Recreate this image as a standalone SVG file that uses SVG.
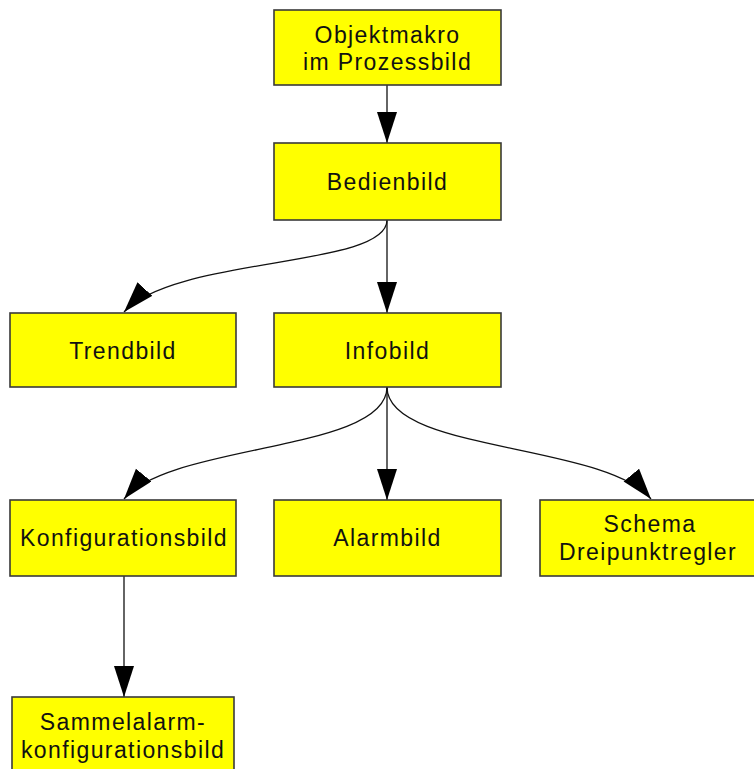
<svg xmlns="http://www.w3.org/2000/svg" width="754" height="769" viewBox="0 0 754 769">
  <style>
    .box { fill: #ffff00; stroke: #3a3a3a; stroke-width: 1.6; }
    .lbl { font-family: "Liberation Sans", Arial, sans-serif; font-size: 23px; fill: #111; text-anchor: middle; letter-spacing: 1.4px; }
    .edge { fill: none; stroke: #111; stroke-width: 1.3; }
  </style>
  <defs>
    <marker id="arrow" markerUnits="userSpaceOnUse" markerWidth="34" markerHeight="22" refX="31" refY="10" orient="auto">
      <path d="M0,0 L31,10 L0,20 z" fill="#000"/>
    </marker>
  </defs>

  <rect width="754" height="769" fill="#fff"/>

  <g id="connectors">
    <path class="edge" d="M387,85 L387,143" marker-end="url(#arrow)"/>
    <path class="edge" d="M387,220 L387,313" marker-end="url(#arrow)"/>
    <path class="edge" d="M387,220 C387,268 175,256 124,312" marker-end="url(#arrow)"/>
    <path class="edge" d="M387,387 L387,500" marker-end="url(#arrow)"/>
    <path class="edge" d="M387,387 C387,452 170,443 124,499" marker-end="url(#arrow)"/>
    <path class="edge" d="M387,387 C387,452 605,443 651,499" marker-end="url(#arrow)"/>
    <path class="edge" d="M124,576 L124,697" marker-end="url(#arrow)"/>
  </g>

  <g id="objektmakro">
    <rect class="box" x="274" y="10" width="227" height="75"/>
    <text class="lbl" x="387.5" y="43">Objektmakro</text>
    <text class="lbl" x="387.5" y="70">im Prozessbild</text>
  </g>
  <g id="bedienbild">
    <rect class="box" x="274" y="143" width="227" height="77"/>
    <text class="lbl" x="387.5" y="190">Bedienbild</text>
  </g>
  <g id="trendbild">
    <rect class="box" x="10" y="313" width="226" height="74"/>
    <text class="lbl" x="123" y="359">Trendbild</text>
  </g>
  <g id="infobild">
    <rect class="box" x="274" y="313" width="227" height="74"/>
    <text class="lbl" x="387.5" y="359">Infobild</text>
  </g>
  <g id="konfigurationsbild">
    <rect class="box" x="10" y="500" width="226" height="76"/>
    <text class="lbl" x="124" y="546">Konfigurationsbild</text>
  </g>
  <g id="alarmbild">
    <rect class="box" x="274" y="500" width="227" height="76"/>
    <text class="lbl" x="387.5" y="546">Alarmbild</text>
  </g>
  <g id="schema">
    <rect class="box" x="540" y="500" width="227" height="76"/>
    <text class="lbl" x="650" y="532">Schema</text>
    <text class="lbl" x="648" y="560">Dreipunktregler</text>
  </g>
  <g id="sammelalarm">
    <rect class="box" x="12" y="697" width="222" height="80"/>
    <text class="lbl" x="123" y="730">Sammelalarm-</text>
    <text class="lbl" x="123" y="758">konfigurationsbild</text>
  </g>
</svg>
